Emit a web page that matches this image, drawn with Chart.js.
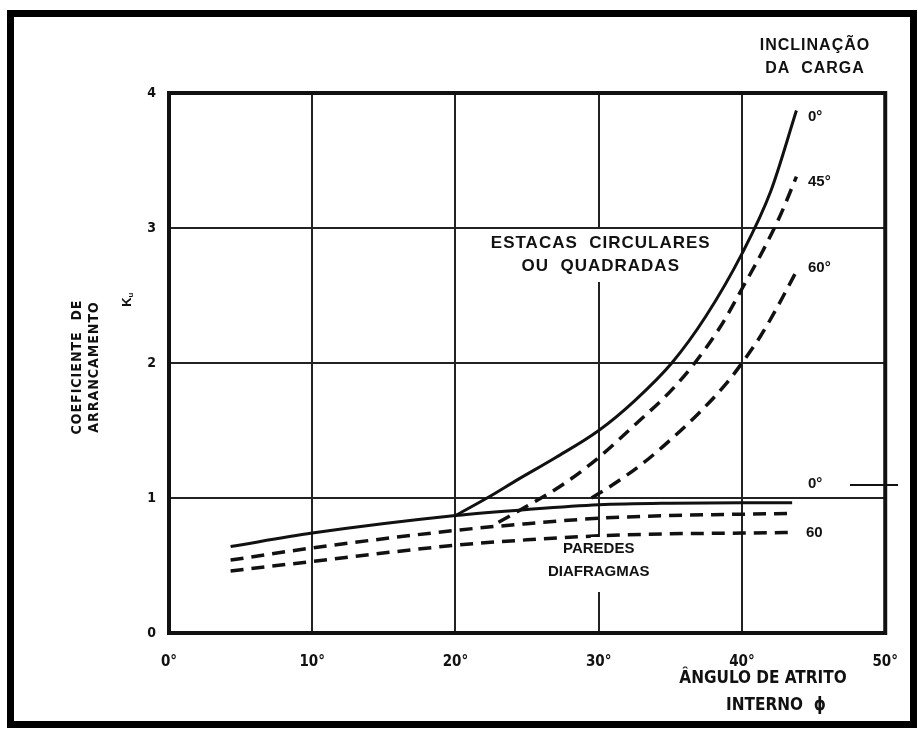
<!DOCTYPE html>
<html>
<head>
<meta charset="utf-8">
<script src="https://cdn.jsdelivr.net/npm/chart.js@4"></script>
<style>
  body { margin: 0; background: #fff; }
  canvas { display: block; }
</style>
</head>
<body>
<canvas id="chart" width="918" height="731"></canvas>
<script>
// Ângulo de atrito interno (graus) e coeficiente de arrancamento Ku
// Paredes diafragmas
const phiParedes = [4.3, 10, 20, 25, 30, 35, 40, 43.5];
const kParedes0 = [0.64, 0.74, 0.87, 0.915, 0.95, 0.962, 0.965, 0.965];
const kParedes45 = [0.54, 0.63, 0.76, 0.81, 0.85, 0.87, 0.88, 0.885];
const kParedes60 = [0.46, 0.53, 0.65, 0.69, 0.72, 0.735, 0.74, 0.745];

// Estacas circulares ou quadradas
const phiEstacas0 = [20, 22.2, 24.4, 27, 30, 32.5, 35.1, 37.5, 40, 42, 43.8];
const kEstacas0 = [0.87, 1.0, 1.14, 1.3, 1.5, 1.72, 2.0, 2.35, 2.81, 3.27, 3.87];
const phiEstacas45 = [23, 25, 27.5, 30, 32.5, 35, 36.7, 38.5, 40, 41.5, 42.7, 43.8];
const kEstacas45 = [0.82, 0.94, 1.1, 1.3, 1.54, 1.79, 2.0, 2.27, 2.55, 2.84, 3.1, 3.38];
const phiEstacas60 = [29.5, 31, 33, 35, 37, 39, 40, 41.3, 42.6, 43.8];
const kEstacas60 = [1.0, 1.1, 1.25, 1.43, 1.63, 1.86, 2.0, 2.2, 2.44, 2.68];

// Rótulos dos eixos
const xTicks = [0, 10, 20, 30, 40, 50];
const yTicks = [0, 1, 2, 3, 4];

const FONT = "'Liberation Sans', 'DejaVu Sans', sans-serif";
const NARROW = "'Liberation Sans Narrow', 'DejaVu Sans Condensed', 'Liberation Sans', sans-serif";

function pts(xs, ys) {
    return xs.map((x, i) => ({ x: x, y: ys[i] }));
}

function serie(xs, ys, dashed) {
    return {
        data: pts(xs, ys),
        borderColor: '#111',
        borderWidth: dashed ? 3.5 : 3,
        borderDash: dashed ? [13, 8] : [],
        pointRadius: 0,
        fill: false,
        cubicInterpolationMode: 'monotone'
    };
}

// Moldura, textos e anotações desenhados no canvas
const anotacoes = {
    id: 'anotacoes',
    beforeDraw(chart) {
        const c = chart.ctx;
        c.save();
        c.fillStyle = '#fff';
        c.fillRect(0, 0, chart.width, chart.height);
        c.restore();
    },
    beforeDatasetsDraw(chart) {
        const c = chart.ctx;
        const a = chart.chartArea;
        c.save();
        c.strokeStyle = '#111';
        c.lineWidth = 4;
        c.strokeRect(a.left, a.top, a.right - a.left, a.bottom - a.top);
        c.restore();
    },
    afterDatasetsDraw(chart) {
        const c = chart.ctx;
        const xs = chart.scales.x;
        c.save();

        // moldura externa
        c.strokeStyle = '#000';
        c.lineWidth = 7;
        c.strokeRect(10.5, 13.5, 903, 711);

        c.textAlign = 'center';
        c.textBaseline = 'middle';

        // caixas brancas cortando a linha de 30°
        const x30 = xs.getPixelForValue(30);
        c.fillStyle = '#fff';
        c.fillRect(x30 - 8, 229, 16, 53);
        c.fillRect(x30 - 8, 537, 16, 55);
        c.fillStyle = '#111';

        c.letterSpacing = '1px';
        c.font = 'bold 17px ' + FONT;
        c.fillText('ESTACAS  CIRCULARES', x30 + 2, 243);
        c.fillText('OU  QUADRADAS', x30 + 2, 266);

        c.letterSpacing = '0px';
        c.font = 'bold 15px ' + FONT;
        c.fillText('PAREDES', x30, 549);
        c.fillText('DIAFRAGMAS', x30, 572);

        c.letterSpacing = '1px';
        c.font = 'bold 16px ' + FONT;
        c.fillText('INCLINAÇÃO', 815, 46);
        c.fillText('DA  CARGA', 815, 69);

        // inclinações junto às curvas
        c.letterSpacing = '0px';
        c.font = 'bold 15px ' + FONT;
        c.textAlign = 'left';
        c.fillText('0°', 808, 117);
        c.fillText('45°', 808, 182);
        c.fillText('60°', 808, 268);
        c.fillText('0°', 808, 484);
        c.fillText('60', 806, 533);
        c.strokeStyle = '#111';
        c.lineWidth = 2;
        c.beginPath();
        c.moveTo(850, 485);
        c.lineTo(898, 485);
        c.stroke();

        // título do eixo X
        c.textAlign = 'center';
        c.font = 'bold 17px ' + NARROW;
        c.fillText('ÂNGULO DE ATRITO', 763, 679);
        c.fillText('INTERNO  ϕ', 776, 706);

        // título do eixo Y (vertical)
        c.save();
        c.translate(77, 367);
        c.rotate(-Math.PI / 2);
        c.letterSpacing = '1px';
        c.font = 'bold 14px ' + NARROW;
        c.fillText('COEFICIENTE  DE', 0, 0);
        c.fillText('ARRANCAMENTO', 0, 17);
        c.restore();

        c.save();
        c.translate(127, 302);
        c.rotate(-Math.PI / 2);
        c.font = 'bold 13px ' + FONT;
        c.fillText('K', 0, 0);
        c.font = 'bold 8px ' + FONT;
        c.fillText('u', 7, 4);
        c.restore();

        c.restore();
    }
};

const chart = new Chart(document.getElementById('chart'), {
    type: 'line',
    data: {
        datasets: [
            serie(phiParedes, kParedes0, false),
            serie(phiParedes, kParedes45, true),
            serie(phiParedes, kParedes60, true),
            serie(phiEstacas0, kEstacas0, false),
            serie(phiEstacas45, kEstacas45, true),
            serie(phiEstacas60, kEstacas60, true)
        ]
    },
    options: {
        responsive: false,
        animation: false,
        layout: {
            padding: { top: 93, right: 30, bottom: 0, left: 0 }
        },
        plugins: {
            legend: { display: false },
            tooltip: { enabled: false }
        },
        scales: {
            x: {
                type: 'linear',
                min: xTicks[0],
                max: xTicks[xTicks.length - 1],
                afterBuildTicks: (s) => { s.ticks = xTicks.map(v => ({ value: v })); },
                afterFit: (s) => { s.height = 98; },
                border: { display: false },
                grid: { color: '#222', lineWidth: 2, drawTicks: false },
                ticks: {
                    padding: 20,
                    color: '#111',
                    font: { family: NARROW, size: 15, weight: 'bold' },
                    callback: (v) => v + '°'
                }
            },
            y: {
                type: 'linear',
                min: yTicks[0],
                max: yTicks[yTicks.length - 1],
                afterBuildTicks: (s) => { s.ticks = yTicks.map(v => ({ value: v })); },
                afterFit: (s) => { s.width = 169; },
                border: { display: false },
                grid: { color: '#222', lineWidth: 2, drawTicks: false },
                ticks: {
                    padding: 13,
                    color: '#111',
                    font: { family: NARROW, size: 14, weight: 'bold' }
                }
            }
        }
    },
    plugins: [anotacoes]
});
</script>
</body>
</html>
